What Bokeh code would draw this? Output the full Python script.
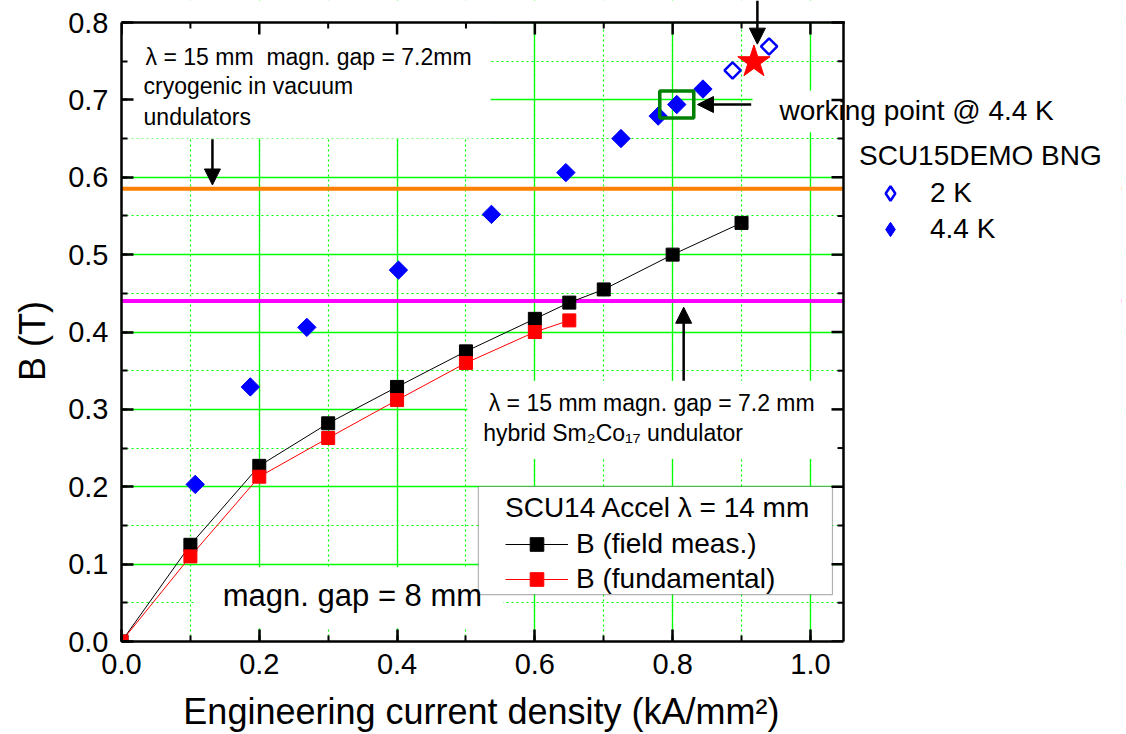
import math
from bokeh.plotting import figure
from bokeh.models import (Range1d, SingleIntervalTicker, Span, Label,
                          BoxAnnotation, Arrow, NormalHead, Legend, LegendItem,
                          NumeralTickFormatter)
from bokeh.embed import file_html
from bokeh.resources import INLINE

# ---------------- data ----------------
# SCU14 Accel (lambda = 14 mm), field measurement
scu14_j_field = [0.0, 0.1, 0.2, 0.3, 0.4, 0.5, 0.6, 0.65, 0.7, 0.8, 0.9]
scu14_b_field = [0.0, 0.125, 0.227, 0.282, 0.329, 0.375, 0.417, 0.438, 0.455, 0.500, 0.541]
# SCU14 Accel, fundamental
scu14_j_fund = [0.0, 0.1, 0.2, 0.3, 0.4, 0.5, 0.6, 0.65]
scu14_b_fund = [0.0, 0.110, 0.213, 0.263, 0.312, 0.360, 0.400, 0.415]
# SCU15DEMO BNG @ 4.4 K
demo_j_44 = [0.107, 0.187, 0.269, 0.402, 0.537, 0.645, 0.725, 0.779, 0.806, 0.844]
demo_b_44 = [0.203, 0.329, 0.406, 0.480, 0.552, 0.606, 0.650, 0.679, 0.694, 0.714]
# SCU15DEMO BNG @ 2 K
demo_j_2 = [0.887, 0.940]
demo_b_2 = [0.738, 0.769]
# red star
star_j = [0.918]
star_b = [0.749]
# working point @ 4.4 K (index into 4.4 K series)
working_index = 8
# reference levels
cryo_level = 0.585      # cryogenic in-vacuum undulator
hybrid_level = 0.44     # hybrid Sm2Co17 undulator

# axes
x_max = 1.048
y_max = 0.8
x_major_ticks = [0.0, 0.2, 0.4, 0.6, 0.8, 1.0]
x_minor_ticks = [0.1, 0.3, 0.5, 0.7, 0.9]
y_major_ticks = [0.0, 0.1, 0.2, 0.3, 0.4, 0.5, 0.6, 0.7, 0.8]
y_minor_ticks = [0.05, 0.15, 0.25, 0.35, 0.45, 0.55, 0.65, 0.75]
NB = "\u00a0"
x_label = "Engineering current density (kA/mm²)"
y_label = "B (T)"

FONT = "Liberation Sans"
GREEN = "#00ff00"

# layout: the axes box is 722 x 619 px; the frame extends further right and up
# so that texts and the arrow outside the box are not clipped
LEFT, RIGHT, TOP, BOTTOM = 121, 5, 0, 93
W, H = 1126, 734
AXES_W, AXES_H = 722, 619
u_per_px = x_max / AXES_W
v_per_px = y_max / AXES_H
x_end = (W - LEFT - RIGHT) * u_per_px
y_end = (H - TOP - BOTTOM) * v_per_px

# the axis titles are centred on the whole frame: pad them so that the
# visible text is centred on the axes box
x_title = x_label + NB * 28
y_title = y_label + NB * 4

p = figure(width=W, height=H, x_range=Range1d(0, x_end), y_range=Range1d(0, y_end),
           output_backend="svg", toolbar_location=None,
           min_border_left=LEFT, min_border_right=RIGHT, min_border_top=TOP,
           min_border_bottom=BOTTOM, x_axis_label=x_title, y_axis_label=y_title)
p.background_fill_color = "white"
p.border_fill_color = "white"
p.outline_line_color = None

xt = SingleIntervalTicker(interval=0.2, num_minor_ticks=2)
yt = SingleIntervalTicker(interval=0.1, num_minor_ticks=2)


def style_axis(ax):
    ax.axis_line_width = 2.5
    ax.axis_line_color = "black"
    ax.major_tick_in = 12
    ax.major_tick_out = 0
    ax.minor_tick_in = 6
    ax.minor_tick_out = 0
    ax.major_tick_line_width = 2.5
    ax.minor_tick_line_width = 2
    ax.major_tick_line_color = "black"
    ax.minor_tick_line_color = "black"
    ax.major_label_text_font = FONT
    ax.major_label_text_color = "black"
    ax.formatter = NumeralTickFormatter(format="0.0")
    ax.major_label_text_font_size = "29px"
    ax.axis_label_text_font = FONT
    ax.axis_label_text_font_size = "36px"
    ax.axis_label_text_font_style = "normal"
    ax.axis_label_text_color = "black"


xa = p.xaxis[0]
ya = p.yaxis[0]
xa.ticker = xt
ya.ticker = yt
style_axis(xa)
style_axis(ya)
xa.bounds = (0, x_max)
ya.bounds = (0, y_max)
xa.major_label_standoff = 12
xa.axis_label_standoff = 14
ya.major_label_standoff = 13
ya.axis_label_standoff = 12

for g, t in ((p.xgrid[0], xt), (p.ygrid[0], yt)):
    g.ticker = t
    g.grid_line_color = GREEN
    g.grid_line_width = 1.3
    g.minor_grid_line_color = GREEN
    g.minor_grid_line_width = 1.2
    g.minor_grid_line_dash = "2 3"
p.xgrid[0].bounds = (0, x_max)
p.ygrid[0].bounds = (0, y_max)

# reference lines (under the data)
p.add_layout(Span(location=cryo_level, dimension="width", line_color="#ff8000",
                  line_width=4, level="underlay"))
p.add_layout(Span(location=hybrid_level, dimension="width", line_color="#ff00ff",
                  line_width=4, level="underlay"))

# white boxes behind annotation texts (hide grid) + area outside the axes box
for (l, r, b, t) in ((0.0, 0.536, 0.650, y_max),
                     (0.502, x_max, 0.236, 0.337),
                     (0.105, 0.554, 0.017, 0.096),
                     (0.916, x_max, 0.658, 0.712),
                     (x_max, x_end, 0.0, y_end),
                     (0.0, x_end, y_max, y_end)):
    p.add_layout(BoxAnnotation(left=l, right=r, bottom=b, top=t, fill_color="white",
                               fill_alpha=1, line_color=None, level="underlay"))

# legend box for SCU14
p.add_layout(BoxAnnotation(left=0.518, right=1.032, bottom=0.0607, top=0.2003,
                           fill_color="white", fill_alpha=1, line_color="black",
                           line_width=1.2, level="underlay"))

# top and right sides of the axes box with inward ticks
p.segment(x0=[0.0, x_max], y0=[y_max, 0.0], x1=[x_max, x_max], y1=[y_max, y_max],
          line_color="black", line_width=2.5, line_cap="square")
p.segment(x0=[x_max] * len(y_major_ticks), y0=y_major_ticks,
          x1=[x_max - 12 * u_per_px] * len(y_major_ticks), y1=y_major_ticks,
          line_color="black", line_width=2.5)
p.segment(x0=[x_max] * len(y_minor_ticks), y0=y_minor_ticks,
          x1=[x_max - 6 * u_per_px] * len(y_minor_ticks), y1=y_minor_ticks,
          line_color="black", line_width=2)
p.segment(x0=x_major_ticks, y0=[y_max] * len(x_major_ticks),
          x1=x_major_ticks, y1=[y_max - 12 * v_per_px] * len(x_major_ticks),
          line_color="black", line_width=2.5)
p.segment(x0=x_minor_ticks, y0=[y_max] * len(x_minor_ticks),
          x1=x_minor_ticks, y1=[y_max - 6 * v_per_px] * len(x_minor_ticks),
          line_color="black", line_width=2)

# SCU14 curves
l_black = p.line(scu14_j_field, scu14_b_field, line_color="black", line_width=1)
l_red = p.line(scu14_j_fund, scu14_b_fund, line_color="red", line_width=1)
s_black = p.scatter(scu14_j_field, scu14_b_field, marker="square", size=13,
                    fill_color="black", line_color="black")
s_red = p.scatter(scu14_j_fund, scu14_b_fund, marker="square", size=13,
                  fill_color="red", line_color="red")

# SCU15DEMO: diamond keys for the legend (zero size, hidden under the data marks)
k_2 = p.scatter(demo_j_2, demo_b_2, marker="diamond", size=0, fill_color="white",
                line_color="blue", line_width=2.5)
k_44 = p.scatter(demo_j_44, demo_b_44, marker="diamond", size=0, fill_color="blue",
                 line_color="blue")
# SCU15DEMO data (diamonds)
s_44 = p.scatter(demo_j_44, demo_b_44, marker="square", angle=math.pi / 4, size=13,
                 fill_color="blue", line_color="blue")
s_2 = p.scatter(demo_j_2, demo_b_2, marker="square", angle=math.pi / 4, size=11.5,
                fill_color="white", line_color="blue", line_width=2.5)

p.scatter(star_j, star_b, marker="star", size=34, fill_color="red", line_color="red")

# working point frame
p.rect([demo_j_44[working_index]], [demo_b_44[working_index]], width=34, height=27,
       width_units="screen", height_units="screen", fill_color=None,
       line_color="green", line_width=3.5)


# arrows
def arrow(x0, y0, x1, y1):
    p.add_layout(Arrow(end=NormalHead(size=16, fill_color="black", line_color="black"),
                       x_start=x0, y_start=y0, x_end=x1, y_end=y1,
                       line_color="black", line_width=2.5))


arrow(0.132, 0.649, 0.132, 0.590)
arrow(0.816, 0.337, 0.816, 0.432)
arrow(0.914, demo_b_44[working_index], 0.836, demo_b_44[working_index])
arrow(0.923, y_end, 0.923, 0.772)


# texts
def label(x, y, text, size):
    p.add_layout(Label(x=x, y=y, text=text, text_font=FONT, text_font_size=size,
                       text_baseline="alphabetic", text_color="black"))


label(0.035, 0.756, "λ" + NB + "=" + NB + "15 mm" + NB + NB + "magn. gap = 7.2mm", "23px")
label(0.032, 0.7176, "cryogenic in vacuum", "23px")
label(0.032, 0.6785, "undulators", "23px")
label(0.955, 0.6865, "working point @ 4.4 K", "28px")
label(0.533, 0.3088, "λ = 15 mm magn. gap = 7.2 mm", "23px")
label(0.525, 0.2698, "hybrid Sm₂Co₁₇ undulator", "23px")
label(0.147, 0.0593, "magn. gap = 8 mm", "31px")


# legends
def style_legend(lg):
    lg.title_text_font = FONT
    lg.title_text_font_size = "28px"
    lg.title_text_font_style = "normal"
    lg.title_text_color = "black"
    lg.label_text_font = FONT
    lg.label_text_font_size = "28px"
    lg.label_text_color = "black"
    lg.border_line_color = None
    lg.background_fill_alpha = 0
    lg.margin = 0
    lg.padding = 2
    lg.spacing = 1
    lg.title_standoff = 3
    lg.label_standoff = 8
    lg.glyph_height = 34
    lg.label_height = 34


leg1 = Legend(items=[LegendItem(label="B (field meas.)", renderers=[l_black, s_black]),
                     LegendItem(label="B (fundamental)", renderers=[l_red, s_red])],
              title="SCU14 Accel λ = 14 mm", location=(384, 45))
style_legend(leg1)
leg1.glyph_width = 63
p.add_layout(leg1)

leg2 = Legend(items=[LegendItem(label="2 K", renderers=[k_2]),
                     LegendItem(label="4.4 K", renderers=[k_44])],
              title="SCU15DEMO BNG", location=(738, 394))
style_legend(leg2)
leg2.glyph_width = 62
leg2.glyph_height = 36
leg2.label_height = 34
leg2.spacing = 0
leg2.title_standoff = 3
leg2.label_standoff = 9
p.add_layout(leg2)

open("out.html", "w").write(file_html(p, INLINE))
